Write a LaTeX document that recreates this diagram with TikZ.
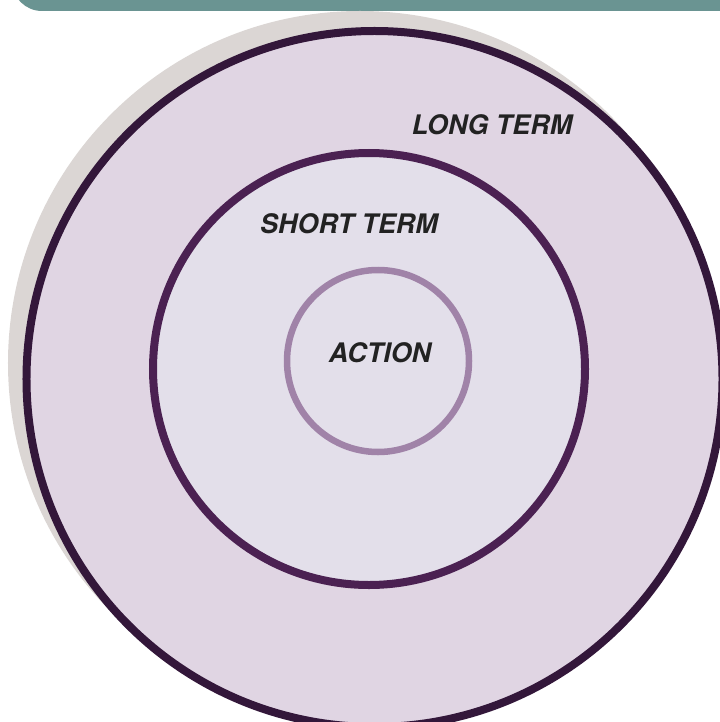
\documentclass[tikz,border=0pt]{standalone}
\usepackage{fontspec}
\setmainfont{TeX Gyre Heros}
\definecolor{bandc}{HTML}{6A9492}
\definecolor{shadowc}{HTML}{DBD6D4}
\definecolor{outerfill}{HTML}{E0D5E3}
\definecolor{outerline}{HTML}{33173A}
\definecolor{midfill}{HTML}{E3DFEA}
\definecolor{midline}{HTML}{4B2152}
\definecolor{innerline}{HTML}{A083A8}
\definecolor{txt}{HTML}{222222}
\tikzset{
  ring/.style={circle, inner sep=0pt, outer sep=0pt},
  lbl/.style={inner sep=0pt, text=txt, font=\bfseries\itshape\fontsize{27}{30}\selectfont}
}
\begin{document}
\begin{tikzpicture}[x=1bp,y=-1bp]
\useasboundingbox (0,0) rectangle (720,722);
\clip (0,0) rectangle (720,722);
\fill[bandc, rounded corners=30bp] (12,-40) rectangle (760,11);
\node[ring, fill=shadowc, minimum size=704bp] (shadow) at (360,363) {};
\node[ring, fill=outerfill, draw=outerline, line width=8bp, minimum size=696bp] (longc) at (374.5,379) {};
\node[ring, fill=midfill, draw=midline, line width=8bp, minimum size=432bp] (shortc) at (369,369) {};
\node[ring, fill=midfill, draw=innerline, line width=6.5bp, minimum size=182bp] (actc) at (378,361) {};
\node[lbl] (lt) at (492,125) {LONG TERM};
\node[lbl] (st) at (349,224) {SHORT TERM};
\node[lbl] (ac) at (380,353) {ACTION};
\end{tikzpicture}
\end{document}
